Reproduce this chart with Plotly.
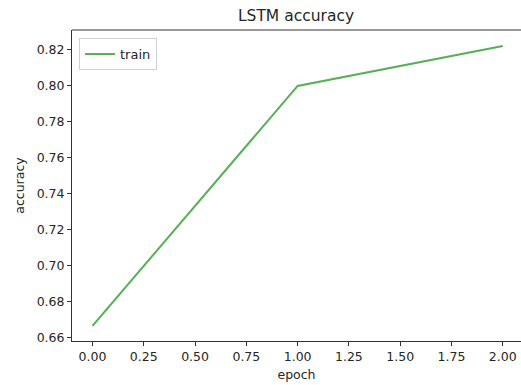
import plotly.graph_objects as go

epochs = [0, 1, 2]
train_acc = [0.6667, 0.8000, 0.8222]
x_ticks = [0.0, 0.25, 0.5, 0.75, 1.0, 1.25, 1.5, 1.75, 2.0]
y_ticks = [0.66, 0.68, 0.70, 0.72, 0.74, 0.76, 0.78, 0.80, 0.82]

font = "DejaVu Sans"
txt = "#262626"

fig = go.Figure()
fig.add_trace(go.Scatter(x=epochs, y=train_acc, mode="lines", name="train",
                         line=dict(color="#55b055", width=2)))

fig.update_layout(
    width=521, height=385,
    margin=dict(l=72, r=0, t=30, b=44),
    paper_bgcolor="white", plot_bgcolor="white",
    font=dict(family=font, size=13, color=txt),
    title=dict(text="LSTM accuracy", x=296/521, xanchor="center",
               y=1 - 16/385, yanchor="middle",
               font=dict(size=15.5, color=txt, family=font)),
    showlegend=True,
    legend=dict(x=0.0156, y=0.974, xanchor="left", yanchor="top",
                bgcolor="rgba(255,255,255,0.8)", bordercolor="#d0d0d0",
                borderwidth=1, font=dict(size=13, color=txt),
                itemwidth=30, tracegroupgap=0),
)
fig.update_xaxes(
    range=[-0.1, 2.089], tickvals=x_ticks, ticktext=[f"{v:.2f}" for v in x_ticks],
    showgrid=False, zeroline=False, showline=True, linecolor="#333333", linewidth=1,
    ticks="outside", ticklen=4, tickcolor="#333333",
    tickfont=dict(size=12.5, color=txt),
    title=dict(text="epoch", standoff=7, font=dict(size=12.5, color=txt)),
)
fig.update_yaxes(
    range=[0.6583, 0.8311], tickvals=y_ticks, ticktext=[f"{v:.2f}" for v in y_ticks],
    showgrid=False, zeroline=False, showline=True, linecolor="#333333", linewidth=1,
    ticks="outside", ticklen=4, tickcolor="#333333",
    tickfont=dict(size=12.5, color=txt),
    title=dict(text="accuracy", standoff=9, font=dict(size=12.5, color=txt)),
    mirror=False,
)
# top spine
fig.add_shape(type="line", xref="paper", yref="paper", x0=0, x1=1, y0=1, y1=1,
              line=dict(color="#333333", width=1))

fig.write_html("out.html")
